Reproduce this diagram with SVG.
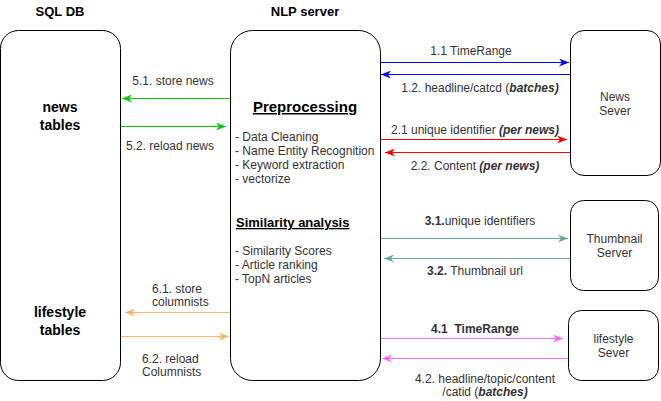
<svg xmlns="http://www.w3.org/2000/svg" width="661" height="401" viewBox="0 0 661 401">
<style>
.box{fill:#fff;stroke:#000;stroke-width:1}
text{font-family:"Liberation Sans",Arial,sans-serif}
.t{font-size:13px;font-weight:bold;fill:#000;text-anchor:middle}
.bt{font-size:14px;font-weight:bold;fill:#000;text-anchor:middle}
.lb{font-size:12px;fill:#333;text-anchor:middle}
.ll{font-size:12px;fill:#333}
.sv{font-size:12px;fill:#333;text-anchor:middle}
.c{fill:none;stroke-width:1}
</style>
<defs>
<marker id="mg" markerUnits="userSpaceOnUse" markerWidth="10" markerHeight="8" refX="10" refY="4" orient="auto"><path d="M0,0 L10,4 L0,8 L3,4 z" fill="#00CC00"/></marker>
<marker id="mb" markerUnits="userSpaceOnUse" markerWidth="10" markerHeight="8" refX="10" refY="4" orient="auto"><path d="M0,0 L10,4 L0,8 L3,4 z" fill="#0000FF"/></marker>
<marker id="mr" markerUnits="userSpaceOnUse" markerWidth="10" markerHeight="8" refX="10" refY="4" orient="auto"><path d="M0,0 L10,4 L0,8 L3,4 z" fill="#FF0000"/></marker>
<marker id="mt" markerUnits="userSpaceOnUse" markerWidth="10" markerHeight="8" refX="10" refY="4" orient="auto"><path d="M0,0 L10,4 L0,8 L3,4 z" fill="#67AB9F"/></marker>
<marker id="mo" markerUnits="userSpaceOnUse" markerWidth="10" markerHeight="8" refX="10" refY="4" orient="auto"><path d="M0,0 L10,4 L0,8 L3,4 z" fill="#FFB366"/></marker>
<marker id="mm" markerUnits="userSpaceOnUse" markerWidth="10" markerHeight="8" refX="10" refY="4" orient="auto"><path d="M0,0 L10,4 L0,8 L3,4 z" fill="#FF66FF"/></marker>
</defs>
<text class="t" x="60" y="16">SQL DB</text>
<text class="t" x="305" y="16">NLP server</text>
<g id="sqldb">
<rect class="box" x="0.5" y="30.5" width="120" height="350" rx="18" ry="18"/>
<text class="bt" x="60" y="112">news</text>
<text class="bt" x="60" y="130">tables</text>
<text class="bt" x="60" y="317">lifestyle</text>
<text class="bt" x="60" y="335">tables</text>
</g>
<g id="nlp">
<rect class="box" x="230.5" y="30.5" width="150" height="350" rx="22" ry="22"/>
<text x="305" y="112" style="font-size:15px;font-weight:bold;fill:#000;text-anchor:middle;text-decoration:underline">Preprocessing</text>
<text class="ll" x="235" y="141">- Data Cleaning</text>
<text class="ll" x="235" y="155">- Name Entity Recognition</text>
<text class="ll" x="235" y="169">- Keyword extraction</text>
<text class="ll" x="235" y="183">- vectorize</text>
<text x="236" y="227" style="font-size:13px;font-weight:bold;fill:#000;text-decoration:underline">Similarity analysis</text>
<text class="ll" x="235" y="255">- Similarity Scores</text>
<text class="ll" x="235" y="269">- Article ranking</text>
<text class="ll" x="235" y="283">- TopN articles</text>
</g>
<g id="news">
<rect class="box" x="570.5" y="30.5" width="90" height="145" rx="13.5" ry="13.5"/>
<text class="sv" x="615" y="101">News</text>
<text class="sv" x="615" y="115">Sever</text>
</g>
<g id="thumb">
<rect class="box" x="570.5" y="200.5" width="88" height="90" rx="13" ry="13"/>
<text class="sv" x="614.5" y="243">Thumbnail</text>
<text class="sv" x="614.5" y="257">Server</text>
</g>
<g id="lifestyle">
<rect class="box" x="568.5" y="310.5" width="90" height="70" rx="13" ry="13"/>
<text class="sv" x="613.5" y="343">lifestyle</text>
<text class="sv" x="613.5" y="357">Sever</text>
</g>
<g id="connectors">
<line class="c" stroke="#0000FF" x1="381" y1="62.5" x2="569" y2="62.5" marker-end="url(#mb)"/>
<line class="c" stroke="#0000FF" x1="570" y1="74.5" x2="381" y2="74.5" marker-end="url(#mb)"/>
<line class="c" stroke="#FF0000" x1="381" y1="139.5" x2="567" y2="139.5" marker-end="url(#mr)"/>
<line class="c" stroke="#FF0000" x1="570" y1="152.5" x2="385" y2="152.5" marker-end="url(#mr)"/>
<line class="c" stroke="#67AB9F" x1="381" y1="238.5" x2="568" y2="238.5" marker-end="url(#mt)"/>
<line class="c" stroke="#67AB9F" x1="570" y1="258.5" x2="384" y2="258.5" marker-end="url(#mt)"/>
<line class="c" stroke="#FF66FF" x1="381" y1="338.5" x2="563" y2="338.5" marker-end="url(#mm)"/>
<line class="c" stroke="#FF66FF" x1="568" y1="358.5" x2="382" y2="358.5" marker-end="url(#mm)"/>
<line class="c" stroke="#00CC00" x1="230" y1="98.5" x2="122" y2="98.5" marker-end="url(#mg)"/>
<line class="c" stroke="#00CC00" x1="121" y1="126.5" x2="226" y2="126.5" marker-end="url(#mg)"/>
<line class="c" stroke="#FFB366" x1="230" y1="312.5" x2="125" y2="312.5" marker-end="url(#mo)"/>
<line class="c" stroke="#FFB366" x1="121" y1="336.5" x2="229" y2="336.5" marker-end="url(#mo)"/>
<text class="lb" x="471" y="55">1.1 TimeRange</text>
<text class="lb" x="480" y="92">1.2. headline/catcd (<tspan font-weight="bold" font-style="italic">batches)</tspan></text>
<text class="lb" x="475" y="134">2.1 unique identifier <tspan font-weight="bold" font-style="italic">(per news)</tspan></text>
<text class="lb" x="475" y="170">2.2. Content <tspan font-weight="bold" font-style="italic">(per news)</tspan></text>
<text class="lb" x="480" y="225"><tspan font-weight="bold">3.1.</tspan>unique identifiers</text>
<text class="lb" x="475" y="275"><tspan font-weight="bold">3.2.</tspan> Thumbnail url</text>
<text class="lb" x="475" y="333" font-weight="bold" xml:space="preserve">4.1  TimeRange</text>
<text class="lb" x="485" y="383">4.2. headline/topic/content</text>
<text class="lb" x="485" y="396">/catid (<tspan font-weight="bold" font-style="italic">batches)</tspan></text>
<text class="lb" x="173" y="85">5.1. store news</text>
<text class="lb" x="170" y="150">5.2. reload news</text>
<text class="ll" x="152" y="293">6.1. store</text>
<text class="ll" x="152" y="306">columnists</text>
<text class="ll" x="142" y="363">6.2. reload</text>
<text class="ll" x="142" y="376">Columnists</text>
</g>
</svg>
